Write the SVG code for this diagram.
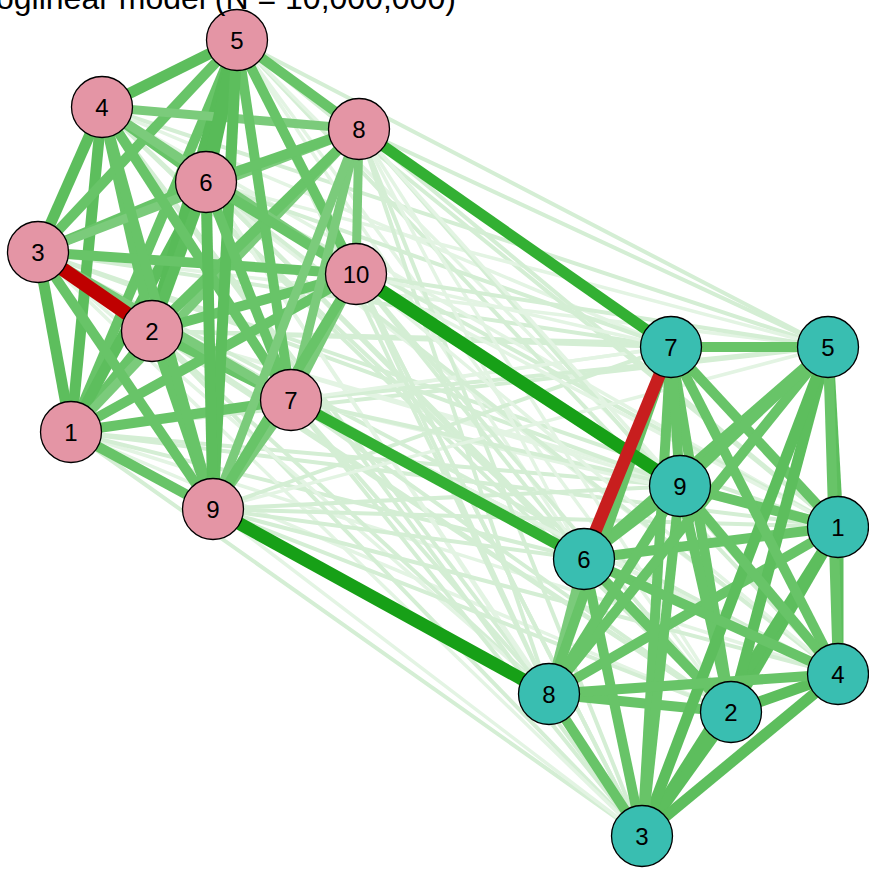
<svg xmlns="http://www.w3.org/2000/svg" width="869" height="869" viewBox="0 0 869 869">
<style>
.c{stroke:#d4eed4;stroke-width:4;fill:none}
.cf{stroke:#e3f4e3;stroke-width:3.5;fill:none}
.w1{stroke:#5dbe5d;stroke-width:11}
.w2{stroke:#68c468;stroke-width:10}
.w3{stroke:#7bcb7b;stroke-width:9}
.w4{stroke:#58bb58;stroke-width:14}
.s1{stroke:#17a017;stroke-width:13}
.s2{stroke:#33b033;stroke-width:11}
.r1{stroke:#bf0000;stroke-width:14}
.r2{stroke:#c81e1e;stroke-width:12.5}
.pk circle{fill:#E495A5;stroke:#000;stroke-width:1.3}
.tl circle{fill:#39BEB1;stroke:#000;stroke-width:1.3}
.n text{font-family:"Liberation Sans",Arial,sans-serif;font-size:24px;text-anchor:middle;fill:#000}
.title{font-family:"Liberation Sans",Arial,sans-serif;font-size:32px;fill:#000}
</style>
<rect width="869" height="869" fill="#fff"/>
<g id="connectors">
<g id="cross-weak">
<line class="c" x1="71" y1="432" x2="838" y2="527"/>
<line class="cf" x1="71" y1="432" x2="731" y2="712"/>
<line class="c" x1="71" y1="432" x2="642" y2="836"/>
<line class="cf" x1="71" y1="432" x2="838" y2="674"/>
<line class="c" x1="71" y1="432" x2="828" y2="347"/>
<line class="c" x1="71" y1="432" x2="584" y2="559"/>
<line class="cf" x1="71" y1="432" x2="671" y2="347"/>
<line class="c" x1="71" y1="432" x2="549" y2="694"/>
<line class="c" x1="71" y1="432" x2="680" y2="486"/>
<line class="cf" x1="152" y1="331" x2="838" y2="527"/>
<line class="c" x1="152" y1="331" x2="731" y2="712"/>
<line class="c" x1="152" y1="331" x2="642" y2="836"/>
<line class="c" x1="152" y1="331" x2="838" y2="674"/>
<line class="c" x1="152" y1="331" x2="828" y2="347"/>
<line class="cf" x1="152" y1="331" x2="584" y2="559"/>
<line class="c" x1="152" y1="331" x2="671" y2="347"/>
<line class="c" x1="152" y1="331" x2="549" y2="694"/>
<line class="cf" x1="152" y1="331" x2="680" y2="486"/>
<line class="c" x1="38" y1="252" x2="838" y2="527"/>
<line class="c" x1="38" y1="252" x2="731" y2="712"/>
<line class="cf" x1="38" y1="252" x2="642" y2="836"/>
<line class="c" x1="38" y1="252" x2="838" y2="674"/>
<line class="cf" x1="38" y1="252" x2="828" y2="347"/>
<line class="c" x1="38" y1="252" x2="584" y2="559"/>
<line class="c" x1="38" y1="252" x2="671" y2="347"/>
<line class="cf" x1="38" y1="252" x2="549" y2="694"/>
<line class="c" x1="38" y1="252" x2="680" y2="486"/>
<line class="cf" x1="102" y1="107" x2="838" y2="527"/>
<line class="c" x1="102" y1="107" x2="731" y2="712"/>
<line class="c" x1="102" y1="107" x2="642" y2="836"/>
<line class="cf" x1="102" y1="107" x2="838" y2="674"/>
<line class="c" x1="102" y1="107" x2="828" y2="347"/>
<line class="c" x1="102" y1="107" x2="584" y2="559"/>
<line class="cf" x1="102" y1="107" x2="671" y2="347"/>
<line class="c" x1="102" y1="107" x2="549" y2="694"/>
<line class="c" x1="102" y1="107" x2="680" y2="486"/>
<line class="c" x1="237" y1="40" x2="838" y2="527"/>
<line class="cf" x1="237" y1="40" x2="731" y2="712"/>
<line class="c" x1="237" y1="40" x2="642" y2="836"/>
<line class="c" x1="237" y1="40" x2="838" y2="674"/>
<line class="c" x1="237" y1="40" x2="828" y2="347"/>
<line class="cf" x1="237" y1="40" x2="584" y2="559"/>
<line class="c" x1="237" y1="40" x2="671" y2="347"/>
<line class="c" x1="237" y1="40" x2="549" y2="694"/>
<line class="cf" x1="237" y1="40" x2="680" y2="486"/>
<line class="c" x1="206" y1="182" x2="838" y2="527"/>
<line class="c" x1="206" y1="182" x2="731" y2="712"/>
<line class="cf" x1="206" y1="182" x2="642" y2="836"/>
<line class="c" x1="206" y1="182" x2="838" y2="674"/>
<line class="cf" x1="206" y1="182" x2="828" y2="347"/>
<line class="c" x1="206" y1="182" x2="584" y2="559"/>
<line class="c" x1="206" y1="182" x2="671" y2="347"/>
<line class="cf" x1="206" y1="182" x2="549" y2="694"/>
<line class="c" x1="206" y1="182" x2="680" y2="486"/>
<line class="cf" x1="291" y1="400" x2="838" y2="527"/>
<line class="c" x1="291" y1="400" x2="731" y2="712"/>
<line class="c" x1="291" y1="400" x2="642" y2="836"/>
<line class="cf" x1="291" y1="400" x2="838" y2="674"/>
<line class="c" x1="291" y1="400" x2="828" y2="347"/>
<line class="cf" x1="291" y1="400" x2="671" y2="347"/>
<line class="c" x1="291" y1="400" x2="549" y2="694"/>
<line class="c" x1="291" y1="400" x2="680" y2="486"/>
<line class="c" x1="359" y1="129" x2="838" y2="527"/>
<line class="cf" x1="359" y1="129" x2="731" y2="712"/>
<line class="c" x1="359" y1="129" x2="642" y2="836"/>
<line class="c" x1="359" y1="129" x2="838" y2="674"/>
<line class="c" x1="359" y1="129" x2="828" y2="347"/>
<line class="cf" x1="359" y1="129" x2="584" y2="559"/>
<line class="c" x1="359" y1="129" x2="549" y2="694"/>
<line class="cf" x1="359" y1="129" x2="680" y2="486"/>
<line class="c" x1="213" y1="509" x2="838" y2="527"/>
<line class="c" x1="213" y1="509" x2="731" y2="712"/>
<line class="cf" x1="213" y1="509" x2="642" y2="836"/>
<line class="c" x1="213" y1="509" x2="838" y2="674"/>
<line class="cf" x1="213" y1="509" x2="828" y2="347"/>
<line class="c" x1="213" y1="509" x2="584" y2="559"/>
<line class="c" x1="213" y1="509" x2="671" y2="347"/>
<line class="c" x1="213" y1="509" x2="680" y2="486"/>
<line class="cf" x1="356" y1="274" x2="838" y2="527"/>
<line class="c" x1="356" y1="274" x2="731" y2="712"/>
<line class="c" x1="356" y1="274" x2="642" y2="836"/>
<line class="cf" x1="356" y1="274" x2="838" y2="674"/>
<line class="c" x1="356" y1="274" x2="828" y2="347"/>
<line class="c" x1="356" y1="274" x2="584" y2="559"/>
<line class="cf" x1="356" y1="274" x2="671" y2="347"/>
<line class="c" x1="356" y1="274" x2="549" y2="694"/>
</g>
<g id="within-pink">
<line class="w2" x1="71" y1="432" x2="152" y2="331"/>
<line class="w1" x1="71" y1="432" x2="38" y2="252"/>
<line class="w1" x1="71" y1="432" x2="102" y2="107"/>
<line class="w2" x1="71" y1="432" x2="237" y2="40"/>
<line class="w1" x1="71" y1="432" x2="206" y2="182"/>
<line class="w2" x1="71" y1="432" x2="291" y2="400"/>
<line class="w3" x1="71" y1="432" x2="359" y2="129"/>
<line class="w2" x1="71" y1="432" x2="213" y2="509"/>
<line class="w2" x1="71" y1="432" x2="356" y2="274"/>
<line class="w2" x1="152" y1="331" x2="102" y2="107"/>
<line class="w4" x1="152" y1="331" x2="237" y2="40"/>
<line class="w1" x1="152" y1="331" x2="206" y2="182"/>
<line class="w2" x1="152" y1="331" x2="291" y2="400"/>
<line class="w2" x1="152" y1="331" x2="359" y2="129"/>
<line class="w2" x1="152" y1="331" x2="213" y2="509"/>
<line class="w2" x1="152" y1="331" x2="356" y2="274"/>
<line class="w1" x1="38" y1="252" x2="102" y2="107"/>
<line class="w2" x1="38" y1="252" x2="237" y2="40"/>
<line class="w2" x1="38" y1="252" x2="206" y2="182"/>
<line class="w3" x1="38" y1="252" x2="291" y2="400"/>
<line class="w3" x1="38" y1="252" x2="359" y2="129"/>
<line class="w2" x1="38" y1="252" x2="213" y2="509"/>
<line class="w2" x1="38" y1="252" x2="356" y2="274"/>
<line class="w1" x1="102" y1="107" x2="237" y2="40"/>
<line class="w2" x1="102" y1="107" x2="206" y2="182"/>
<line class="w2" x1="102" y1="107" x2="291" y2="400"/>
<line class="w3" x1="102" y1="107" x2="359" y2="129"/>
<line class="w2" x1="102" y1="107" x2="213" y2="509"/>
<line class="w3" x1="102" y1="107" x2="356" y2="274"/>
<line class="w4" x1="237" y1="40" x2="206" y2="182"/>
<line class="w2" x1="237" y1="40" x2="291" y2="400"/>
<line class="w2" x1="237" y1="40" x2="359" y2="129"/>
<line class="w1" x1="237" y1="40" x2="213" y2="509"/>
<line class="w2" x1="237" y1="40" x2="356" y2="274"/>
<line class="w2" x1="206" y1="182" x2="291" y2="400"/>
<line class="w2" x1="206" y1="182" x2="359" y2="129"/>
<line class="w1" x1="206" y1="182" x2="213" y2="509"/>
<line class="w2" x1="206" y1="182" x2="356" y2="274"/>
<line class="w3" x1="291" y1="400" x2="359" y2="129"/>
<line class="w3" x1="291" y1="400" x2="213" y2="509"/>
<line class="w3" x1="291" y1="400" x2="356" y2="274"/>
<line class="w3" x1="359" y1="129" x2="213" y2="509"/>
<line class="w3" x1="359" y1="129" x2="356" y2="274"/>
<line class="w2" x1="213" y1="509" x2="356" y2="274"/>
</g>
<g id="within-teal">
<line class="w1" x1="838" y1="527" x2="731" y2="712"/>
<line class="w1" x1="838" y1="527" x2="642" y2="836"/>
<line class="w1" x1="838" y1="527" x2="838" y2="674"/>
<line class="w1" x1="838" y1="527" x2="828" y2="347"/>
<line class="w2" x1="838" y1="527" x2="584" y2="559"/>
<line class="w2" x1="838" y1="527" x2="671" y2="347"/>
<line class="w2" x1="838" y1="527" x2="549" y2="694"/>
<line class="w2" x1="838" y1="527" x2="680" y2="486"/>
<line class="w1" x1="731" y1="712" x2="642" y2="836"/>
<line class="w1" x1="731" y1="712" x2="838" y2="674"/>
<line class="w1" x1="731" y1="712" x2="828" y2="347"/>
<line class="w2" x1="731" y1="712" x2="584" y2="559"/>
<line class="w2" x1="731" y1="712" x2="671" y2="347"/>
<line class="w2" x1="731" y1="712" x2="549" y2="694"/>
<line class="w2" x1="731" y1="712" x2="680" y2="486"/>
<line class="w1" x1="642" y1="836" x2="838" y2="674"/>
<line class="w1" x1="642" y1="836" x2="828" y2="347"/>
<line class="w2" x1="642" y1="836" x2="584" y2="559"/>
<line class="w2" x1="642" y1="836" x2="671" y2="347"/>
<line class="w2" x1="642" y1="836" x2="549" y2="694"/>
<line class="w2" x1="642" y1="836" x2="680" y2="486"/>
<line class="w2" x1="838" y1="674" x2="828" y2="347"/>
<line class="w2" x1="838" y1="674" x2="584" y2="559"/>
<line class="w2" x1="838" y1="674" x2="671" y2="347"/>
<line class="w2" x1="838" y1="674" x2="549" y2="694"/>
<line class="w2" x1="838" y1="674" x2="680" y2="486"/>
<line class="w2" x1="828" y1="347" x2="584" y2="559"/>
<line class="w2" x1="828" y1="347" x2="671" y2="347"/>
<line class="w2" x1="828" y1="347" x2="549" y2="694"/>
<line class="w2" x1="828" y1="347" x2="680" y2="486"/>
<line class="w3" x1="584" y1="559" x2="549" y2="694"/>
<line class="w2" x1="584" y1="559" x2="680" y2="486"/>
<line class="w2" x1="671" y1="347" x2="549" y2="694"/>
<line class="w2" x1="671" y1="347" x2="680" y2="486"/>
<line class="w2" x1="549" y1="694" x2="680" y2="486"/>
</g>
<g id="cross-strong">
<line class="s2" x1="359" y1="129" x2="671" y2="347"/>
<line class="s2" x1="291" y1="400" x2="584" y2="559"/>
<line class="s1" x1="356" y1="274" x2="680" y2="486"/>
<line class="s1" x1="213" y1="509" x2="549" y2="694"/>
</g>
<g id="negative">
<line class="r1" x1="38" y1="252" x2="152" y2="331"/>
<line class="r2" x1="671" y1="347" x2="584" y2="559"/>
</g>
</g>
<g id="node-p1" class="n pk"><circle cx="71" cy="432" r="30.5"/><text x="71" y="440.5">1</text></g>
<g id="node-p2" class="n pk"><circle cx="152" cy="331" r="30.5"/><text x="152" y="339.5">2</text></g>
<g id="node-p3" class="n pk"><circle cx="38" cy="252" r="30.5"/><text x="38" y="260.5">3</text></g>
<g id="node-p4" class="n pk"><circle cx="102" cy="107" r="30.5"/><text x="102" y="115.5">4</text></g>
<g id="node-p5" class="n pk"><circle cx="237" cy="40" r="30.5"/><text x="237" y="48.5">5</text></g>
<g id="node-p6" class="n pk"><circle cx="206" cy="182" r="30.5"/><text x="206" y="190.5">6</text></g>
<g id="node-p7" class="n pk"><circle cx="291" cy="400" r="30.5"/><text x="291" y="408.5">7</text></g>
<g id="node-p8" class="n pk"><circle cx="359" cy="129" r="30.5"/><text x="359" y="137.5">8</text></g>
<g id="node-p9" class="n pk"><circle cx="213" cy="509" r="30.5"/><text x="213" y="517.5">9</text></g>
<g id="node-p10" class="n pk"><circle cx="356" cy="274" r="30.5"/><text x="356" y="282.5">10</text></g>
<g id="node-t1" class="n tl"><circle cx="838" cy="527" r="30.5"/><text x="838" y="535.5">1</text></g>
<g id="node-t2" class="n tl"><circle cx="731" cy="712" r="30.5"/><text x="731" y="720.5">2</text></g>
<g id="node-t3" class="n tl"><circle cx="642" cy="836" r="30.5"/><text x="642" y="844.5">3</text></g>
<g id="node-t4" class="n tl"><circle cx="838" cy="674" r="30.5"/><text x="838" y="682.5">4</text></g>
<g id="node-t5" class="n tl"><circle cx="828" cy="347" r="30.5"/><text x="828" y="355.5">5</text></g>
<g id="node-t6" class="n tl"><circle cx="584" cy="559" r="30.5"/><text x="584" y="567.5">6</text></g>
<g id="node-t7" class="n tl"><circle cx="671" cy="347" r="30.5"/><text x="671" y="355.5">7</text></g>
<g id="node-t8" class="n tl"><circle cx="549" cy="694" r="30.5"/><text x="549" y="702.5">8</text></g>
<g id="node-t9" class="n tl"><circle cx="680" cy="486" r="30.5"/><text x="680" y="494.5">9</text></g>
<text class="title" x="-4" y="9">oglinear model (N = 10,000,000)</text>
</svg>
